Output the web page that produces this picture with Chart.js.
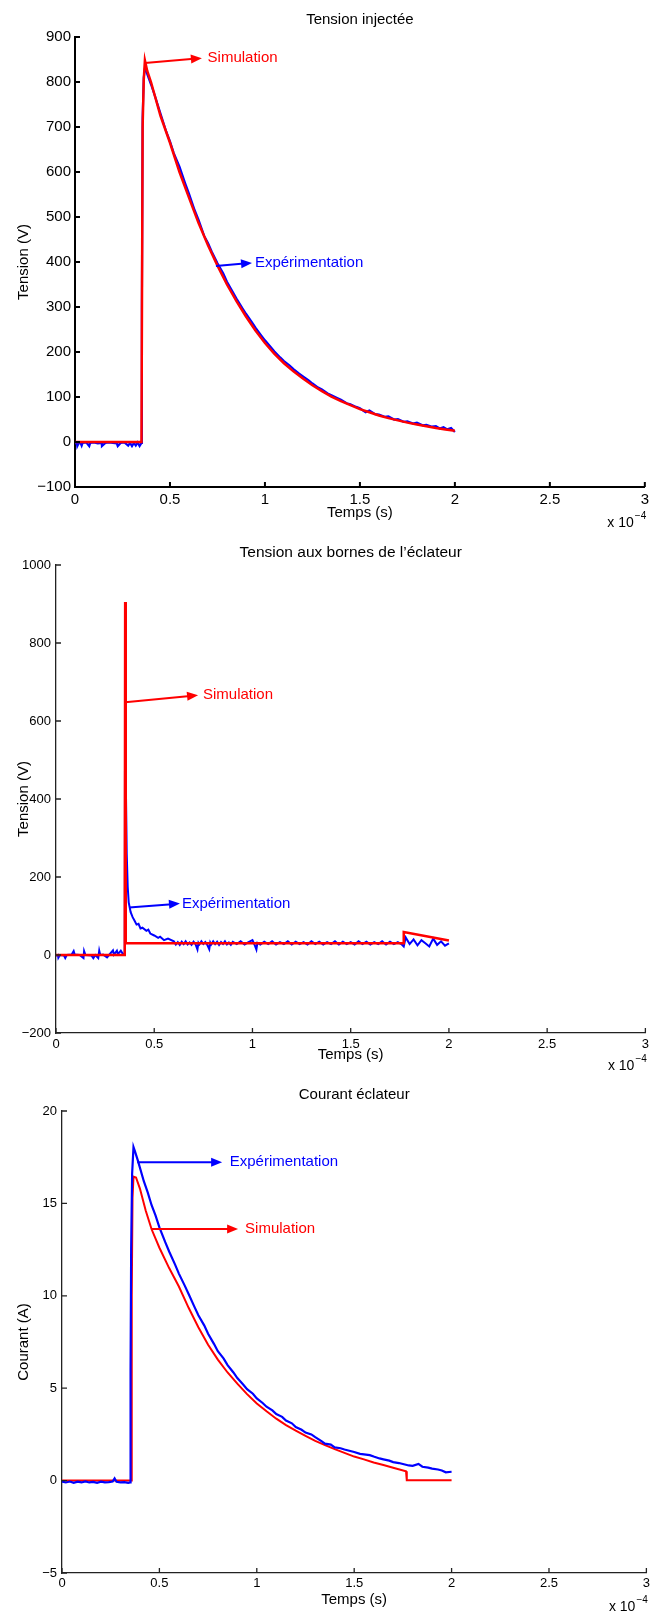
<!DOCTYPE html>
<html>
<head>
<meta charset="utf-8">
<script src="https://cdn.jsdelivr.net/npm/chart.js@4.4.0/dist/chart.umd.min.js"></script>
<style>
  body { margin: 0; background: #fff; }
  canvas { position: absolute; left: 0; }
</style>
</head>
<body>
<canvas id="c1" width="653" height="540" style="top:0px"></canvas>
<canvas id="c2" width="653" height="535" style="top:540px"></canvas>
<canvas id="c3" width="653" height="540" style="top:1075px"></canvas>
<script>
// time axis, in units of 1e-4 s
const xTicks = [0, 0.5, 1, 1.5, 2, 2.5, 3];
const xTickLabels = ['0', '0.5', '1', '1.5', '2', '2.5', '3'];

// Tension injectée (V)
const injTicks = [-100, 0, 100, 200, 300, 400, 500, 600, 700, 800, 900];
const injTickLabels = ['\u2212100', '0', '100', '200', '300', '400', '500', '600', '700', '800', '900'];
const injSim = [[0,0],[0.35,0],[0.356,700],[0.362,805],[0.368,848],[0.38,825],[0.40,800],[0.45,725],[0.50,665],
  [0.55,600],[0.60,543],[0.65,487],[0.70,437],[0.75,392],[0.80,350],[0.85,313],[0.90,279],[0.95,248],[1.00,220],
  [1.05,196],[1.10,175],[1.15,157],[1.20,141],[1.25,126],[1.30,113],[1.35,101],[1.40,91],[1.45,82],[1.50,73],
  [1.55,66],[1.60,59],[1.65,53],[1.70,48],[1.75,43],[1.80,39],[1.85,35],[1.90,31],[1.95,28],[2.00,25]];
const injExp = [[0,-3],[0.01,-2],[0.012,-9],[0.02,-2],[0.03,-3],[0.035,-8],[0.04,-2],[0.06,-1],[0.075,-9],[0.08,-2],
  [0.1,-1],[0.12,-3],[0.14,-2],[0.142,-9],[0.16,-2],[0.18,-1],[0.2,-2],[0.22,-3],[0.225,-9],[0.24,-2],[0.26,-1],
  [0.28,-8],[0.29,-2],[0.3,-9],[0.31,-2],[0.32,-8],[0.33,-1],[0.34,-9],[0.35,-2],[0.352,300],[0.356,720],[0.362,810],
  [0.37,836],[0.38,818],[0.4,795],[0.42,770],[0.45,730],[0.48,690],[0.5,668],[0.52,642],[0.55,612],[0.58,575],
  [0.6,552],[0.63,515],[0.65,494],[0.68,458],[0.7,442],[0.72,423],[0.75,397],[0.78,375],[0.8,356],[0.83,334],
  [0.85,319],[0.88,298],[0.9,285],[0.93,267],[0.95,254],[0.98,237],[1.0,226],[1.03,211],[1.05,201],[1.08,188],
  [1.1,180],[1.13,170],[1.15,162],[1.18,152],[1.2,146],[1.23,137],[1.25,130],[1.28,121],[1.3,117],[1.33,108],
  [1.35,104],[1.38,98],[1.4,94],[1.43,86],[1.45,84],[1.48,78],[1.5,75],[1.53,66],[1.55,70],[1.58,62],[1.6,61],
  [1.63,56],[1.65,57],[1.68,50],[1.7,51],[1.73,45],[1.75,46],[1.78,41],[1.8,43],[1.83,37],[1.85,38],[1.88,34],
  [1.9,35],[1.92,30],[1.94,33],[1.96,28],[1.98,31],[2.0,22]];

// Tension aux bornes de l'éclateur (V)
const gapTicks = [-200, 0, 200, 400, 600, 800, 1000];
const gapTickLabels = ['\u2212200', '0', '200', '400', '600', '800', '1000'];
const gapSim = [[0,0],[0.35,0],[0.352,905],[0.355,30],[1.768,30],[1.77,59],[2.0,37]];
const gapExp = [[0,-2],[0.01,0],[0.012,-7],[0.02,0],[0.04,-1],[0.047,-8],[0.055,0],[0.08,1],[0.09,10],[0.095,1],
  [0.12,0],[0.14,-8],[0.143,10],[0.15,0],[0.18,-1],[0.19,-8],[0.2,0],[0.215,-8],[0.22,11],[0.225,0],[0.24,1],
  [0.26,-6],[0.27,0],[0.29,12],[0.295,1],[0.31,11],[0.315,2],[0.33,11],[0.34,3],[0.35,2],[0.352,880],[0.356,420],
  [0.36,260],[0.365,175],[0.37,135],[0.38,110],[0.39,97],[0.40,88],[0.41,78],[0.42,80],[0.43,68],[0.44,70],
  [0.46,62],[0.47,65],[0.48,55],[0.5,50],[0.52,44],[0.53,47],[0.55,38],[0.57,42],[0.6,35],[0.61,27],[0.62,33],
  [0.63,26],[0.64,34],[0.65,28],[0.66,35],[0.67,27],[0.68,32],[0.69,26],[0.70,34],[0.71,28],[0.72,14],[0.725,31],
  [0.73,27],[0.74,35],[0.75,28],[0.76,33],[0.77,26],[0.78,15],[0.785,32],[0.79,27],[0.80,35],[0.81,28],[0.82,34],
  [0.83,26],[0.84,33],[0.85,28],[0.86,35],[0.87,27],[0.88,32],[0.89,26],[0.90,34],[0.92,28],[0.94,35],[0.96,27],
  [0.98,33],[1.0,38],[1.01,27],[1.02,14],[1.025,31],[1.04,27],[1.06,34],[1.08,28],[1.10,35],[1.12,27],[1.14,33],
  [1.16,28],[1.18,35],[1.20,27],[1.22,34],[1.24,28],[1.26,33],[1.28,27],[1.30,35],[1.32,28],[1.34,34],[1.36,27],
  [1.38,33],[1.40,28],[1.42,35],[1.44,27],[1.46,34],[1.48,28],[1.50,33],[1.52,27],[1.54,35],[1.56,28],[1.58,34],
  [1.60,27],[1.62,33],[1.64,28],[1.66,35],[1.68,27],[1.70,34],[1.72,28],[1.74,33],[1.76,27],[1.77,22],[1.78,45],
  [1.8,28],[1.82,40],[1.84,25],[1.86,38],[1.88,30],[1.9,22],[1.92,42],[1.94,26],[1.96,35],[1.98,24],[2.0,30]];

// Courant éclateur (A)
const curTicks = [-5, 0, 5, 10, 15, 20];
const curTickLabels = ['\u22125', '0', '5', '10', '15', '20'];
const curSim = [[0,0],[0.355,0],[0.358,10],[0.362,15.3],[0.367,16.45],[0.38,16.4],[0.40,15.8],[0.43,14.6],
  [0.46,13.6],[0.50,12.6],[0.55,11.5],[0.60,10.5],[0.65,9.35],[0.70,8.3],[0.75,7.35],[0.80,6.55],[0.85,5.85],
  [0.90,5.25],[0.95,4.68],[1.00,4.17],[1.05,3.75],[1.10,3.35],[1.15,3.0],[1.20,2.7],[1.25,2.42],[1.30,2.15],
  [1.35,1.92],[1.40,1.7],[1.45,1.5],[1.50,1.3],[1.55,1.15],[1.60,0.98],[1.65,0.84],[1.70,0.7],[1.766,0.5],
  [1.77,0.02],[2.0,0.02]];
const curExp = [[0,-0.05],[0.02,-0.1],[0.04,-0.05],[0.06,-0.12],[0.08,-0.06],[0.1,-0.1],[0.12,-0.04],[0.14,-0.1],
  [0.16,-0.07],[0.18,-0.12],[0.2,-0.06],[0.22,-0.1],[0.24,-0.08],[0.26,-0.05],[0.27,0.12],[0.28,-0.06],[0.3,-0.1],
  [0.32,-0.08],[0.34,-0.12],[0.35,-0.1],[0.352,6],[0.355,12.5],[0.36,16.6],[0.367,18.05],[0.375,17.8],[0.39,17.3],
  [0.42,16.2],[0.44,15.6],[0.46,14.9],[0.48,14.35],[0.50,13.7],[0.53,12.9],[0.55,12.4],[0.58,11.7],[0.60,11.2],
  [0.63,10.55],[0.65,10.1],[0.68,9.4],[0.70,8.95],[0.73,8.4],[0.75,7.95],[0.78,7.4],[0.80,7.0],[0.83,6.6],
  [0.85,6.25],[0.88,5.85],[0.90,5.55],[0.93,5.2],[0.95,4.95],[0.98,4.7],[1.00,4.45],[1.03,4.2],[1.05,4.0],
  [1.08,3.8],[1.10,3.6],[1.13,3.45],[1.15,3.25],[1.18,3.1],[1.20,2.9],[1.23,2.75],[1.25,2.6],[1.28,2.5],
  [1.30,2.35],[1.33,2.15],[1.35,2.0],[1.38,1.95],[1.40,1.8],[1.43,1.75],[1.45,1.68],[1.48,1.6],[1.50,1.55],
  [1.53,1.45],[1.55,1.42],[1.58,1.38],[1.60,1.3],[1.63,1.2],[1.65,1.15],[1.68,1.08],[1.70,1.0],[1.73,0.95],
  [1.75,0.9],[1.78,0.82],[1.80,0.8],[1.83,0.9],[1.85,0.75],[1.88,0.7],[1.90,0.65],[1.93,0.6],[1.95,0.55],
  [1.97,0.45],[2.00,0.48]];

const RED = '#ff0000';
const BLUE = '#0000ff';
Chart.defaults.font.family = '"Liberation Sans", Arial, Helvetica, sans-serif';
Chart.defaults.color = '#000';

const toXY = pts => pts.map(p => ({x: p[0], y: p[1]}));

// title, inward ticks, exponent label and arrow notes (notes in data units)
const decor = {
    id: 'decor',
    afterDraw(chart, args, o) {
        const {ctx, chartArea: a, scales: {x, y}} = chart;
        ctx.save();
        ctx.strokeStyle = o.axisColor;
        ctx.lineWidth = o.axisWidth;
        ctx.beginPath();
        x.ticks.forEach(t => {
            const px = x.getPixelForValue(t.value);
            ctx.moveTo(px, a.bottom);
            ctx.lineTo(px, a.bottom - 5);
        });
        y.ticks.forEach(t => {
            const py = y.getPixelForValue(t.value);
            ctx.moveTo(a.left, py);
            ctx.lineTo(a.left + 5, py);
        });
        ctx.stroke();

        ctx.fillStyle = '#000';
        ctx.textBaseline = 'middle';
        ctx.textAlign = 'center';
        ctx.font = o.titleSize + 'px ' + Chart.defaults.font.family;
        ctx.fillText(o.title, (a.left + a.right) / 2, o.titleY);

        // x 10^-4
        ctx.font = '14px ' + Chart.defaults.font.family;
        ctx.textAlign = 'right';
        ctx.fillText('x 10', a.right - 11, a.bottom + o.expDy);
        ctx.font = '10px ' + Chart.defaults.font.family;
        ctx.textAlign = 'left';
        ctx.fillText('\u22124', a.right - 10, a.bottom + o.expDy - 7);

        o.notes.forEach(n => {
            const x0 = x.getPixelForValue(n.from[0]), y0 = y.getPixelForValue(n.from[1]);
            const x1 = x.getPixelForValue(n.to[0]), y1 = y.getPixelForValue(n.to[1]);
            const ang = Math.atan2(y1 - y0, x1 - x0);
            ctx.strokeStyle = n.color;
            ctx.fillStyle = n.color;
            ctx.lineWidth = 2;
            ctx.beginPath();
            ctx.moveTo(x0, y0);
            ctx.lineTo(x1 - 8 * Math.cos(ang), y1 - 8 * Math.sin(ang));
            ctx.stroke();
            ctx.beginPath();
            ctx.moveTo(x1, y1);
            ctx.lineTo(x1 - 11 * Math.cos(ang) + 4.5 * Math.sin(ang), y1 - 11 * Math.sin(ang) - 4.5 * Math.cos(ang));
            ctx.lineTo(x1 - 11 * Math.cos(ang) - 4.5 * Math.sin(ang), y1 - 11 * Math.sin(ang) + 4.5 * Math.cos(ang));
            ctx.closePath();
            ctx.fill();
            ctx.font = '15px ' + Chart.defaults.font.family;
            ctx.textAlign = 'left';
            ctx.textBaseline = 'middle';
            ctx.fillText(n.text, x.getPixelForValue(n.textX), y1);
        });
        ctx.restore();
    }
};

function makeChart(id, c) {
    const canvas = document.getElementById(id);
    const H = canvas.height;
    return new Chart(canvas.getContext('2d'), {
        type: 'line',
        data: { datasets: c.datasets },
        options: {
            responsive: false,
            animation: false,
            devicePixelRatio: 1,
            layout: { padding: { left: 0, right: 653 - c.right, top: c.top, bottom: 0 } },
            plugins: {
                legend: { display: false },
                tooltip: { enabled: false },
                decor: {
                    title: c.title, titleY: c.titleY, titleSize: c.titleSize,
                    axisColor: c.axisColor, axisWidth: c.axisWidth,
                    expDy: c.expDy, notes: c.notes
                }
            },
            elements: { point: { radius: 0 }, line: { tension: 0 } },
            scales: {
                x: {
                    type: 'linear', position: 'bottom', min: 0, max: 3,
                    afterBuildTicks: s => { s.ticks = xTicks.map(v => ({value: v})); },
                    afterFit: s => { s.height = H - c.bottom; },
                    grid: { display: false, drawTicks: false },
                    border: { display: true, color: c.axisColor, width: c.axisWidth },
                    ticks: { padding: c.xTickPad, font: { size: c.tickSize }, maxRotation: 0,
                             callback: (v, i) => xTickLabels[i] },
                    title: { display: true, text: 'Temps (s)', font: { size: 15 },
                             padding: { top: 0, bottom: c.xTitlePad } }
                },
                y: {
                    type: 'linear', position: 'left', min: c.yTicks[0], max: c.yTicks[c.yTicks.length - 1],
                    afterBuildTicks: s => { s.ticks = c.yTicks.map(v => ({value: v})); },
                    afterFit: s => { s.width = c.left; },
                    grid: { display: false, drawTicks: false },
                    border: { display: true, color: c.axisColor, width: c.axisWidth },
                    ticks: { padding: c.yTickPad, font: { size: c.tickSize },
                             callback: (v, i) => c.yLabels[i] },
                    title: { display: true, text: c.yTitle, font: { size: 15 },
                             padding: { top: 14.5, bottom: 0 } }
                }
            }
        },
        plugins: [decor]
    });
}

makeChart('c1', {
    title: 'Tension injectée', titleY: 20, titleSize: 15,
    left: 75, right: 646, top: 37, bottom: 487,
    tickSize: 15, xTickPad: 4, yTickPad: 4, xTitlePad: 18, expDy: 36,
    axisColor: '#000', axisWidth: 2,
    yTicks: injTicks, yLabels: injTickLabels, yTitle: 'Tension (V)',
    datasets: [
        { data: toXY(injSim), borderColor: RED, borderWidth: 2.5 },
        { data: toXY(injExp), borderColor: BLUE, borderWidth: 2.2 }
    ],
    notes: [
        { from: [0.368, 842], to: [0.668, 853], text: 'Simulation', textX: 0.698, color: RED },
        { from: [0.742, 391], to: [0.932, 398], text: 'Expérimentation', textX: 0.947, color: BLUE }
    ]
});

makeChart('c2', {
    title: 'Tension aux bornes de l\u2019éclateur', titleY: 13, titleSize: 15.5,
    left: 56, right: 647, top: 25, bottom: 493,
    tickSize: 13, xTickPad: 4, yTickPad: 5, xTitlePad: 11, expDy: 33,
    axisColor: '#222', axisWidth: 1.3,
    yTicks: gapTicks, yLabels: gapTickLabels, yTitle: 'Tension (V)',
    datasets: [
        { data: toXY(gapSim), borderColor: RED, borderWidth: 2.5 },
        { data: toXY(gapExp), borderColor: BLUE, borderWidth: 2 }
    ],
    notes: [
        { from: [0.352, 648], to: [0.723, 666], text: 'Simulation', textX: 0.748, color: RED },
        { from: [0.372, 122], to: [0.631, 132], text: 'Expérimentation', textX: 0.641, color: BLUE }
    ]
});

makeChart('c3', {
    title: 'Courant éclateur', titleY: 20, titleSize: 15,
    left: 62, right: 647, top: 36, bottom: 498,
    tickSize: 13, xTickPad: 3, yTickPad: 5, xTitlePad: 6, expDy: 34,
    axisColor: '#222', axisWidth: 1.3,
    yTicks: curTicks, yLabels: curTickLabels, yTitle: 'Courant (A)',
    datasets: [
        { data: toXY(curExp), borderColor: BLUE, borderWidth: 2.2 },
        { data: toXY(curSim), borderColor: RED, borderWidth: 2 }
    ],
    notes: [
        { from: [0.386, 17.23], to: [0.822, 17.23], text: 'Expérimentation', textX: 0.861, color: BLUE },
        { from: [0.458, 13.62], to: [0.904, 13.62], text: 'Simulation', textX: 0.94, color: RED }
    ]
});
</script>
</body>
</html>
